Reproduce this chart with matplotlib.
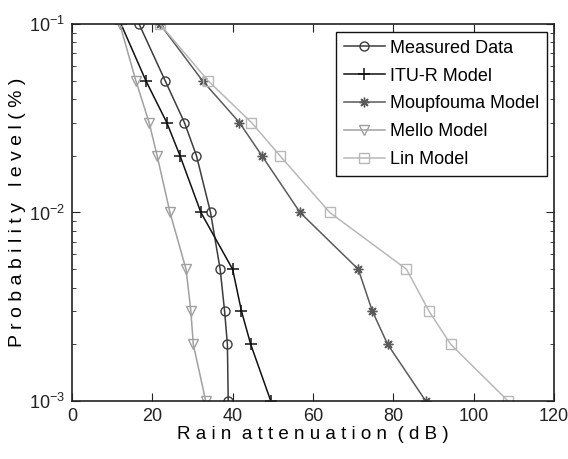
import matplotlib.pyplot as plt
from matplotlib.ticker import LogLocator, FixedLocator

plt.rcParams['font.family'] = ['Liberation Sans', 'DejaVu Sans']

prob = [0.1, 0.05, 0.03, 0.02, 0.01, 0.005, 0.003, 0.002, 0.001]

measured = [16.7, 23.2, 28.0, 31.0, 34.5, 36.9, 38.0, 38.7, 38.9]
itur = [12.2, 18.4, 23.6, 26.9, 32.1, 40.0, 42.2, 44.5, 49.5]
moupfouma = [21.9, 32.5, 41.7, 47.3, 56.8, 71.3, 74.8, 78.6, 88.1]
mello = [11.9, 15.9, 19.2, 21.2, 24.4, 28.4, 29.6, 30.2, 33.3]
lin = [21.9, 33.9, 44.7, 51.8, 64.2, 83.3, 88.9, 94.3, 108.6]

xticks = [0, 20, 40, 60, 80, 100, 120]

fig = plt.figure(figsize=(5.68, 4.59), dpi=100)
ax = fig.add_axes([0.1268, 0.1264, 0.975 - 0.1268, 0.9477 - 0.1264])

ax.plot(measured, prob, '-o', color='#3c3c3c', mfc='none', ms=6.5, lw=1.1, label='Measured Data')
ax.plot(itur, prob, '-+', color='#111111', ms=8, mew=1.1, lw=1.1, label='ITU-R Model')
ax.plot(moupfouma, prob, '-', marker=(8, 2, 0), color='#5a5a5a', ms=7, mew=1.0, lw=1.1,
        label='Moupfouma Model')
ax.plot(mello, prob, '-v', color='#a0a0a0', mfc='none', ms=7, lw=1.1, label='Mello Model')
ax.plot(lin, prob, '-s', color='#b8b8b8', mfc='none', ms=6.5, lw=1.1, label='Lin Model')

ax.set_yscale('log')
ax.set_xlim(0, 120)
ax.set_ylim(1e-3, 1e-1)
ax.xaxis.set_major_locator(FixedLocator(xticks))
ax.yaxis.set_major_locator(LogLocator(base=10))
ax.yaxis.set_minor_locator(LogLocator(base=10, subs=range(2, 10)))
ax.yaxis.set_minor_formatter(plt.NullFormatter())
ax.tick_params(which='both', direction='in', top=True, right=True, labelsize=13, colors='#222222')
ax.tick_params(which='major', length=6, pad=5)
ax.tick_params(which='minor', length=3)
for s in ax.spines.values():
    s.set_linewidth(1.2)
    s.set_color('#222222')

ax.set_xlabel('R a i n  a t t e n u a t i o n  ( d B )', fontsize=13.5, labelpad=1)
ax.set_ylabel('P r o b a b i l i t y   l e v e l ( % )', fontsize=14, labelpad=2)

leg = ax.legend(loc='upper right', bbox_to_anchor=(0.986, 0.98), fontsize=13,
                fancybox=False, framealpha=1, edgecolor='#111111',
                handlelength=2.3, handletextpad=0.25, labelspacing=0.6,
                borderpad=0.45, borderaxespad=0)
leg.get_frame().set_linewidth(1.0)

fig.savefig('out.png', dpi=100)
